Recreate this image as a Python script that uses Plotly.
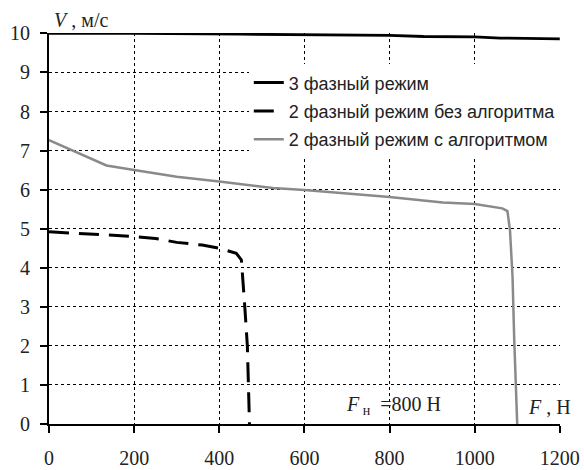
import plotly.graph_objects as go

# Speed V (m/s) versus load force F (N)
f_three = [0, 200, 450, 600, 800, 880, 1000, 1060, 1200]
v_three = [10.0, 10.0, 9.98, 9.96, 9.95, 9.92, 9.91, 9.88, 9.86]

f_two_plain = [0, 100, 200, 250, 300, 360, 400, 440, 452, 460, 466, 471]
v_two_plain = [4.92, 4.86, 4.80, 4.75, 4.65, 4.58, 4.50, 4.37, 4.20, 3.0, 2.0, 0.0]

f_two_algo = [0, 135, 200, 300, 400, 526, 600, 700, 800, 925, 1000, 1065, 1077,
              1083, 1089, 1093, 1100]
v_two_algo = [7.27, 6.62, 6.50, 6.33, 6.21, 6.04, 5.99, 5.90, 5.81, 5.67, 5.63,
              5.52, 5.45, 4.96, 3.77, 2.15, 0.0]

x_ticks = [0, 200, 400, 600, 800, 1000, 1200]
y_ticks = list(range(0, 11))

names = ["3 фазный режим",
         "2 фазный режим без алгоритма",
         "2 фазный режим с алгоритмом"]

serif = "Liberation Serif"
sans = "Liberation Sans"

fig = go.Figure()
fig.add_trace(go.Scatter(x=f_three, y=v_three, mode="lines", name=names[0],
                         legendgroup="a",
                         line=dict(color="black", width=2.8)))
fig.add_trace(go.Scatter(x=f_two_plain, y=v_two_plain, mode="lines", name=names[1],
                         legendgroup="b",
                         line=dict(color="black", width=3, dash="20px,10px")))
fig.add_trace(go.Scatter(x=f_two_algo, y=v_two_algo, mode="lines", name=names[2],
                         legendgroup="c",
                         line=dict(color="#8a8a8a", width=2.5)))

axis_common = dict(
    showline=True, linecolor="black", linewidth=2,
    ticks="outside", ticklen=7, tickwidth=2, tickcolor="black",
    showgrid=True, gridcolor="black", gridwidth=1.2, griddash="dot",
    zeroline=False, automargin=False,
    tickfont=dict(family=serif, size=20, color="#222"),
)

fig.update_xaxes(range=[0, 1200.5], tickvals=x_ticks, ticklabelstandoff=8, **axis_common)
fig.update_yaxes(range=[0, 10.01], tickvals=y_ticks, ticklabelstandoff=6, **axis_common)

fig.add_annotation(xref="paper", yref="paper", x=0.005, y=1.0, xanchor="left",
                   yanchor="bottom", showarrow=False,
                   text="<i>V</i> , м/с", font=dict(family=serif, size=20, color="#222"))
fig.add_annotation(x=1121, y=0.1, xanchor="left", yanchor="bottom", showarrow=False,
                   text="<i>F</i> , Н", font=dict(family=serif, size=20, color="#222"))
fig.add_annotation(x=694, y=0.1, xanchor="left", yanchor="bottom", showarrow=False,
                   text="<i>F</i><sub> н</sub>  =800 Н",
                   font=dict(family=serif, size=20, color="#222"))

fig.update_layout(
    width=584, height=470,
    margin=dict(l=49, r=24, t=33, b=46),
    paper_bgcolor="white", plot_bgcolor="white",
    showlegend=True,
    legend=dict(x=0.391, y=0.92, xanchor="left", yanchor="top",
                bgcolor="white", borderwidth=0,
                font=dict(family=sans, size=18, color="#222"),
                tracegroupgap=2),
)

fig.write_html("out.html")
